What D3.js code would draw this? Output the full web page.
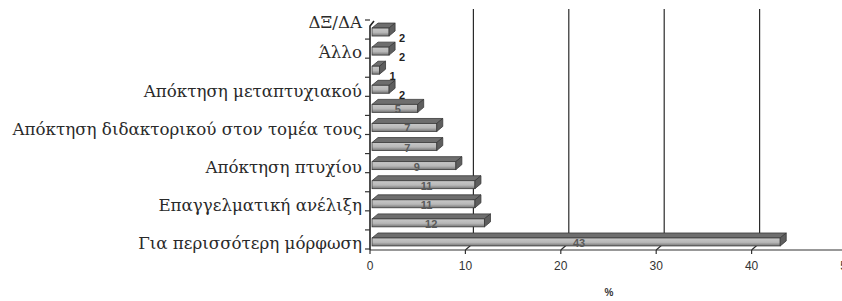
<!DOCTYPE html>
<html>
<head>
<meta charset="utf-8">
<script src="https://cdn.jsdelivr.net/npm/d3@7"></script>
<style>
  body { margin: 0; background: #fff; }
  svg { display: block; }
</style>
</head>
<body>
<svg width="842" height="301"></svg>
<script>
// categories bottom -> top, empty ones have no axis label in the original
var categories = ["Για περισσότερη μόρφωση", "", "Επαγγελματική ανέλιξη", "", "Απόκτηση πτυχίου", "",
                  "Απόκτηση διδακτορικού στον τομέα τους", "", "Απόκτηση μεταπτυχιακού", "", "Άλλο", "ΔΞ/ΔΑ"];
var values = [43, 12, 11, 11, 9, 7, 7, 5, 2, 1, 2, 2];
var xTicks = [0, 10, 20, 30, 40, 50];
var xTitle = "%";

var svg = d3.select("svg"),
    width = +svg.attr("width"),
    height = +svg.attr("height");

var depth = 8, depthY = 7;     // 3d floor offset
var bd = 6, bdy = 5;           // 3d offset of each bar

var x = d3.scaleLinear().domain([0, 50]).range([370, 847]);
var y = d3.scaleBand().domain(d3.range(categories.length))
    .range([249, 20]).paddingInner(0.32).paddingOuter(0.16);
var axisY = 250;

var defs = svg.append("defs");
var grad = defs.append("linearGradient").attr("id", "front")
    .attr("x1", 0).attr("y1", 0).attr("x2", 0).attr("y2", 1);
grad.append("stop").attr("offset", "0%").attr("stop-color", "#c8c8c8");
grad.append("stop").attr("offset", "55%").attr("stop-color", "#b8b8b8");
grad.append("stop").attr("offset", "100%").attr("stop-color", "#747474");

// gridlines: floor slash + back wall vertical
var grid = svg.append("g");
xTicks.filter(function(d) { return d > 0 && d < 50; }).forEach(function(d) {
  grid.append("path")
    .attr("d", "M" + x(d) + "," + axisY + "L" + (x(d) + depth) + "," + (axisY - depthY) +
               "L" + (x(d) + depth) + ",9")
    .attr("fill", "none").attr("stroke", "#2b2b2b").attr("stroke-width", 1.2);
});

// x axis
svg.append("line").attr("x1", x(0)).attr("x2", width).attr("y1", axisY).attr("y2", axisY)
  .attr("stroke", "#333").attr("stroke-width", 1.2);
svg.selectAll(".xt").data(xTicks).enter().append("line")
  .attr("x1", function(d) { return x(d); }).attr("x2", function(d) { return x(d); })
  .attr("y1", axisY).attr("y2", axisY + 4)
  .attr("stroke", "#333").attr("stroke-width", 1.2);
svg.selectAll(".xl").data(xTicks).enter().append("text")
  .attr("x", function(d) { return x(d); })
  .attr("y", 270)
  .attr("text-anchor", "middle")
  .attr("font-family", "Liberation Sans, Arial, sans-serif")
  .attr("font-size", 12)
  .attr("fill", "#333")
  .text(function(d) { return d; });
svg.append("text").attr("x", 609).attr("y", 296).attr("text-anchor", "middle")
  .attr("font-family", "Liberation Sans, Arial, sans-serif").attr("font-size", 10)
  .attr("font-weight", "bold").attr("fill", "#333").text(xTitle);

// y axis with ticks between categories
svg.append("path").attr("d", "M" + x(0) + "," + axisY + "L" + x(0) + ",26L" + (x(0) + 4) + ",21")
  .attr("fill", "none").attr("stroke", "#222").attr("stroke-width", 1.6);
var bounds = d3.range(categories.length + 1).map(function(i) {
  return i < categories.length ? y(i) + y.bandwidth() + (y.step() - y.bandwidth()) / 2 : y(i - 1) - (y.step() - y.bandwidth()) / 2;
});
svg.selectAll(".yt").data(bounds).enter().append("line")
  .attr("x1", x(0) - 5).attr("x2", x(0))
  .attr("y1", function(d) { return d; }).attr("y2", function(d) { return d; })
  .attr("stroke", "#333").attr("stroke-width", 1.2);

// category labels
svg.selectAll(".yl").data(categories).enter().append("text")
  .attr("x", x(0) - 8)
  .attr("y", function(d, i) {
    return i == categories.length - 1 ? y(i) - 1 : y(i) + y.bandwidth() / 2 + 4;
  })
  .attr("dy", "0.35em")
  .attr("text-anchor", "end")
  .attr("font-family", "DejaVu Serif, serif")
  .attr("font-size", 16.7)
  .attr("fill", "#2a2a2a")
  .text(function(d) { return d; });

// 3d bars
var bars = svg.selectAll(".bar").data(values).enter().append("g");
bars.each(function(v, i) {
  var g = d3.select(this);
  var x0 = x(0) + 2, x1 = x(v), yt = y(i), yb = y(i) + y.bandwidth();
  g.append("path")
    .attr("d", "M" + x0 + "," + (yt + bdy) + "L" + (x0 + bd) + "," + yt + "L" + (x1 + bd) + "," + yt +
               "L" + x1 + "," + (yt + bdy) + "Z")
    .attr("fill", "#6e6e6e").attr("stroke", "#3a3a3a").attr("stroke-width", 0.8);
  g.append("rect")
    .attr("x", x0).attr("y", yt + bdy).attr("width", x1 - x0).attr("height", yb - yt - bdy)
    .attr("fill", "url(#front)").attr("stroke", "#3a3a3a").attr("stroke-width", 0.8);
  g.append("path")
    .attr("d", "M" + x1 + "," + (yt + bdy) + "L" + (x1 + bd) + "," + yt + "L" + (x1 + bd) + "," + (yb - bdy) +
               "L" + x1 + "," + yb + "Z")
    .attr("fill", "#5e5e5e").attr("stroke", "#3a3a3a").attr("stroke-width", 0.8);
});

// value labels: outside for the short bars, inside (grey) for the rest
svg.selectAll(".vl").data(values).enter().append("text")
  .attr("x", function(d) { return d <= 2 ? x(d) + bd + 4 : (x(0) + x(d)) / 2 + 4; })
  .attr("y", function(d, i) { return d <= 2 ? y(i) + y.bandwidth() / 2 + 12 : y(i) + y.bandwidth() + 1; })
  .attr("text-anchor", function(d) { return d <= 2 ? "start" : "middle"; })
  .attr("font-family", "Liberation Sans, Arial, sans-serif")
  .attr("font-size", 11)
  .attr("font-weight", "bold")
  .attr("fill", function(d) { return d <= 2 ? "#222" : "#5a5a5a"; })
  .text(function(d) { return d; });
</script>
</body>
</html>
